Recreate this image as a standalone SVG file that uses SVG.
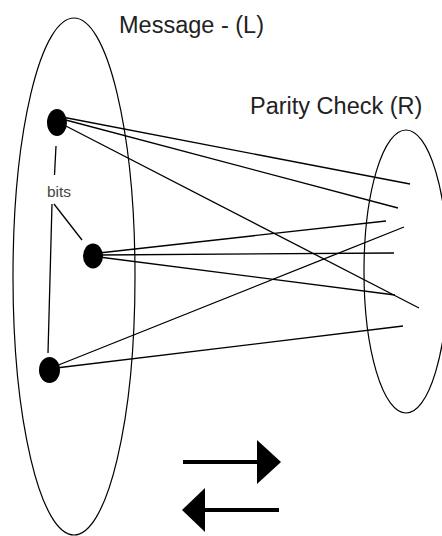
<svg xmlns="http://www.w3.org/2000/svg" width="442" height="536" viewBox="0 0 442 536">
<style>
.set{fill:none;stroke:#000;stroke-width:1.2}
.dot{fill:#000}
.lbl{font-family:"Liberation Sans",Arial,sans-serif;fill:#222}
.big{font-size:23.5px}
.small{font-size:15.5px;fill:#444}
.edge{stroke:#000;stroke-width:1.3;fill:none}
.arr{stroke:#000;stroke-width:4;fill:none}
</style>
<rect width="442" height="536" fill="#fff"/>
<g id="message">
<ellipse class="set" cx="74" cy="276.5" rx="61" ry="258.5"/>
<text class="lbl big" x="119" y="33">Message - (L)</text>
</g>
<g id="parity">
<ellipse class="set" cx="406" cy="271.5" rx="42" ry="141.5"/>
<text class="lbl big" x="250" y="114">Parity Check (R)</text>
</g>
<g id="connectors">
<line class="edge" x1="62" y1="117" x2="410" y2="184"/>
<line class="edge" x1="62" y1="119" x2="398" y2="208"/>
<line class="edge" x1="62" y1="124" x2="419" y2="308"/>
<line class="edge" x1="99" y1="253" x2="386" y2="221"/>
<line class="edge" x1="99" y1="255" x2="394" y2="253"/>
<line class="edge" x1="99" y1="257" x2="395" y2="295"/>
<line class="edge" x1="56" y1="366" x2="404" y2="227"/>
<line class="edge" x1="56" y1="368" x2="403" y2="326"/>
<line class="edge" x1="56" y1="146" x2="54.5" y2="175"/>
<line class="edge" x1="52" y1="204" x2="48" y2="353"/>
<line class="edge" x1="54" y1="204" x2="82" y2="240"/>
</g>
<g id="bit1"><ellipse class="dot" cx="57" cy="122.5" rx="10" ry="13.5"/></g>
<g id="bit2"><ellipse class="dot" cx="93" cy="256" rx="10" ry="12.5"/></g>
<g id="bit3"><ellipse class="dot" cx="49.5" cy="370" rx="10.5" ry="13"/></g>
<g id="bits-label"><text class="lbl small" x="47" y="197">bits</text></g>
<g id="arrow-right">
<line class="arr" x1="183" y1="462" x2="258" y2="462"/>
<polygon points="257,440 281,462 257,484"/>
</g>
<g id="arrow-left">
<line class="arr" x1="204" y1="510" x2="279" y2="510"/>
<polygon points="205,488 182,510 205,532"/>
</g>
</svg>
